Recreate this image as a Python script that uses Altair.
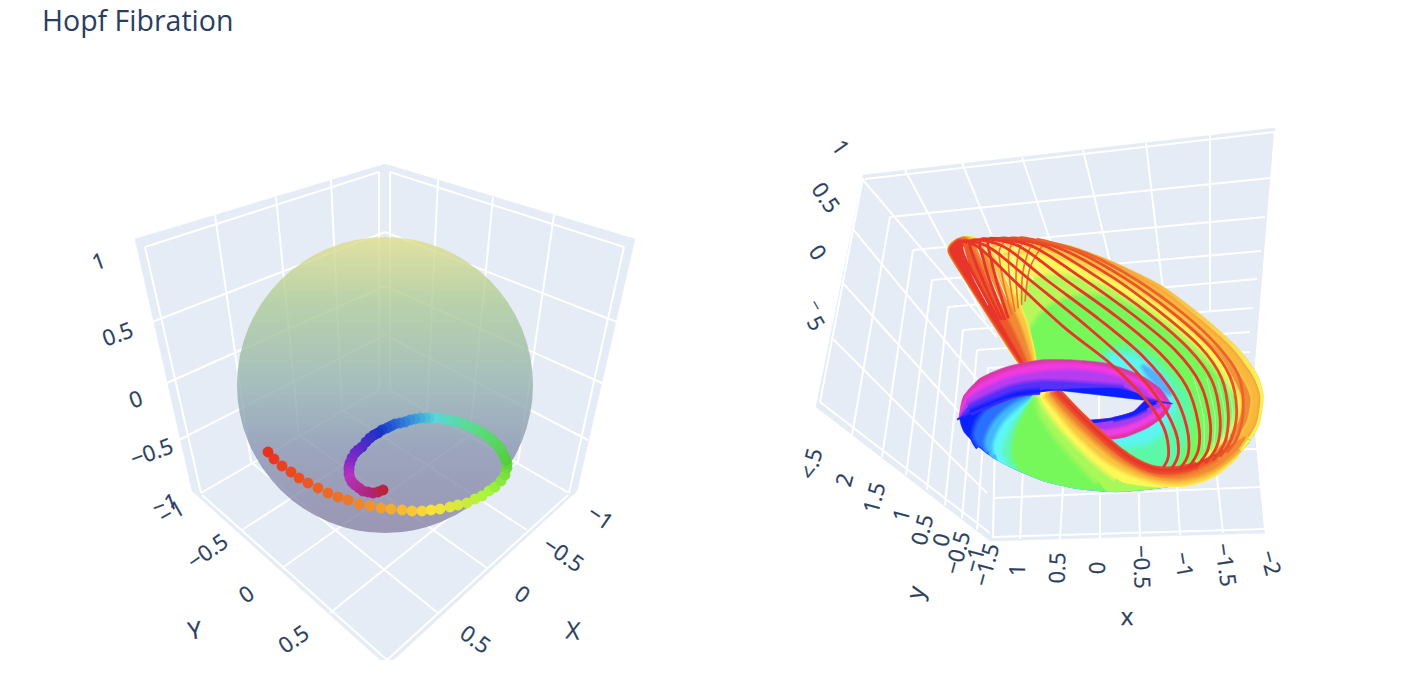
import altair as alt
import pandas as pd

BG = "#e5ecf6"
INK = "#2a3f5f"

left_panel = [(385,164),(635,239),(577,491),(387,666),(192,491),(135,239)]
right_panel = [(863,175),(1275,128),(1252,405),(1265,533),(990,541),(816,407)]

left_grid = [
 (145,247,379,172),(390,172,624,247),(145,247,201,493),(624,247,569,493),(379,172,379,388),(390,172,390,388),
 (201,493,379,390),(569,493,390,390),(202,495,387,660),(568,495,387,660),
 (215,215,251,462),(276,197,299,435),(331,180,342,410),(554,215,518,462),(493,197,470,435),(438,180,427,410),
 (152,322,385,232),(167,383,385,286),(179,440,385,335),(617,322,385,232),(602,383,385,286),(588,440,385,335),
 (330,613,518,462),(282,568,470,435),(242,530,427,410),(438,613,251,462),(487,568,299,435),(527,530,342,410),
]
right_grid = [
 (865,179,1275,132),(890,217,1270,178),(913,250,1265,217),(932,280,1261,251),(948,307,1257,279),(963,330,1253,308),(977,350,1250,332),(988,368,1250,352),
 (905,170,985,320),(962,163,1010,280),(1022,157,1060,270),(1083,150,1112,270),(1146,143,1163,290),(1210,135,1210,310),(1275,132,1253,400),
 (992,537,1265,529),(993,498,1260,487),(992,455,1257,449),(993,537,995,440),(1253,400,1265,529),
 (1020,539,1023,470),(1060,539,1064,470),(1100,539,1100,470),(1140,538,1138,470),(1180,535,1176,470),(1223,533,1213,440),
 (863,180,997,337),(852,228,990,395),(842,282,987,443),(832,338,987,493),(820,402,990,533),
 (863,178,820,402),(890,217,852,435),(913,250,882,457),(932,280,906,475),(948,307,927,490),(963,330,945,505),(977,350,962,518),(988,368,977,530),
]
hole_grid = [(1099,385,1099,422),(1063,390,1064,403)]

sphere_x, sphere_y = [385], [385]

spiral_x = [268,274,282,291,299,308,318,328,338,348,359,370,381,391,402,412,422,431,440,450,458,467,475,482,489,495,501,505,507,
            507,506,504,502,500,497,494,491,487,483,479,475,470,466,462,457,453,448,443,438,433,429,425,420,415,410,405,400,395,391,387,382,378,374,370,366,362,358,355,352,350,349,349,349,350,352,355,359,363,368,373,378,383]
spiral_y = [452,459,466,472,478,483,488,493,497,500,504,506,508,509,510,511,511,510,509,507,505,503,499,496,491,487,481,475,468,
            464,460,456,452,448,445,442,439,436,433,431,429,427,425,423,422,421,420,419,418,418,418,418,418,419,420,422,423,424,426,428,430,433,435,438,442,447,450,453,458,463,467,470,474,478,482,485,488,491,492,493,492,490]
hue_at = [0,9,17,24,30,40,49,55,61,67,73,79,81]
hue_col = ["#e8301e","#ee7828","#fae13c","#a5f53c","#55cd3c","#5adc82","#5ad7d7","#3282dc","#1932c8","#6928c8","#b432be","#af2378","#b9233c"]

body = [
 ("c1", 0, [(62,95),(75,68),(110,58),(200,52),(300,55),(430,80),(560,130),(700,200),(820,290),(920,380),(980,460),(1000,530),(985,620),(930,700),(840,770),(720,795),(500,640),(350,560),(270,420),(190,300),(120,190),(80,130)]),
 ("#f8b83c", 3, [(90,95),(120,70),(200,65),(300,68),(420,95),(550,145),(690,215),(805,305),(900,390),(960,470),(982,530),(970,610),(920,685),(830,755),(720,770),(500,640),(350,560),(280,420),(200,300),(130,190)]),
 ("c3", 3, [(130,95),(210,80),(300,82),(410,110),(540,160),(675,232),(790,320),(885,405),(940,480),(962,535),(950,605),(905,670),(820,740),(720,755),(500,640),(350,560),(290,420),(215,290),(160,190)]),
 ("#fdf75a", 4, [(190,130),(300,105),(400,125),(530,175),(660,245),(770,330),(860,415),(905,490),(925,540),(915,600),(880,650),(810,722),(720,750),(500,640),(350,560),(280,420),(250,300)]),
 ("#b8f75a", 5, [(270,240),(320,175),(410,170),(530,205),(650,270),(760,350),(850,435),(895,505),(912,545),(902,600),(870,650),(805,715),(720,745),(500,640),(350,560),(280,420),(262,330)]),
 ("#76f85a", 5, [(285,415),(300,340),(350,270),(430,235),(530,235),(640,285),(745,365),(835,445),(885,510),(905,550),(895,600),(860,650),(800,710),(720,740),(500,640),(350,560)]),
 ("#5cf8a8", 9, [(520,420),(580,390),(650,410),(720,470),(770,540),(770,620),(745,700),(700,740),(640,720),(540,650)]),
 ("#5cf5f0", 8, [(540,425),(600,415),(650,435),(700,490),(725,550),(705,620),(650,660),(590,670),(540,650)]),
 ("#55b0ff", 4, [(640,440),(690,470),(720,520),(700,510),(660,470)]),
]
wedge = [
 ("#f9c53f", 3, [(62,95),(78,68),(130,58),(190,110),(240,205),(285,310),(310,420),(270,422),(190,300),(120,190)]),
 ("#f08a35", 3, [(62,95),(78,68),(115,58),(165,110),(215,205),(265,310),(300,420),(270,422),(190,300),(120,190)]),
 ("#ec5a2c", 3, [(62,95),(78,68),(105,60),(135,110),(185,215),(240,320),(285,420),(270,422),(190,300),(120,190)]),
 ("#e8352a", 2, [(62,95),(78,68),(92,64),(110,120),(155,210),(215,320),(272,420),(270,422),(190,300),(120,190)]),
]
fan_gaps = [
 [(100,80),(125,160),(175,255)],[(118,75),(150,160),(195,255)],[(137,72),(170,150),(213,250)],[(158,70),(192,145),(232,240)],
 [(178,68),(212,140),(250,225)],[(200,66),(232,130),(268,210)],[(222,66),(254,125),(288,195)],[(245,66),(276,115),(310,180)],[(268,66),(298,105),(332,160)],
]
fan_orange = [
 [(245,285),(218,175),(208,92),(235,55)],[(255,275),(238,170),(238,90),(265,55)],[(265,265),(258,165),(268,90),(290,55)],
 [(275,255),(278,160),(298,88),(320,57)],[(285,245),(298,150),(328,90),(350,62)],
]
hole = [(375,510),(470,505),(560,505),(620,520),(650,540),(610,575),(540,595),(470,603),(420,560)]
arc_inner = [(470,603),(540,595),(610,575),(650,540)]
lower_arc = [
 ("#e0359f", 0, [(722,550),(700,590),(650,625),(590,650),(540,657),(480,640)]),
 ("#ee3fe0", 3, [(710,555),(685,585),(640,612),(585,635),(530,645),(480,630)]),
 ("#a53cf0", 3, [(695,555),(665,575),(625,598),(575,615),(520,625),(475,620)]),
 ("#1020ff", 3, [(680,550),(650,565),(610,585),(550,600),(480,610)]),
]
sil = [(105,640),(170,700),(250,745),(340,782),(440,805),(560,815),(700,802),(820,775),(900,725),(960,660)]
red_edge = [(870,695),(780,738),(700,748),(600,710),(480,610),(380,510)]
front = [
 ("#0a22ff", 0, [(380,510),(230,515),(130,550),(90,590)], 0),
 ("#2a70ff", 5, [(370,512),(250,530),(165,580),(135,640),(150,678),(165,694)], 1),
 ("#40b8ff", 4, [(360,515),(270,545),(200,600),(170,660),(176,692),(185,712)], 2),
 ("#5ef5f5", 4, [(350,518),(285,555),(225,610),(195,670),(198,702),(205,722)], 2),
 ("#5ff8b8", 4, [(340,520),(300,555),(250,620),(225,680),(228,716),(235,737)], 3),
 ("#76f85a", 4, [(330,522),(305,550),(265,620),(250,690),(257,730),(270,752)], 3),
 ("#a8f85a", 6, [(325,525),(335,580),(380,650),(450,730),(505,785),(530,812)], 5),
 ("#fdf75a", 5, [(330,522),(355,570),(410,640),(490,720),(560,775),(590,790)], 6),
 ("#f9c53f", 4, [(345,525),(385,575),(440,640),(530,720),(630,770),(740,790),(840,765),(920,700),(955,650)], 99),
 ("#f08a35", 4, [(360,520),(410,580),(470,640),(560,715),(650,760),(750,775),(850,745),(925,685),(945,650)], 99),
 ("#ec5a2c", 4, [(370,515),(440,590),(520,665),(610,730),(690,760),(770,755),(860,715),(920,665)], 99),
 ("#e8352a", 4, [(380,512),(465,600),(570,695),(660,745),(740,750),(800,735),(875,695)], 99),
]
top_arc_inner = [(722,550),(650,540),(620,520),(560,505),(470,505),(375,510),(300,520),(200,540),(87,595)]
top_arc = [
 ("#d93aa8", 0, [(87,590),(100,530),(150,475),(230,440),(330,420),(430,420),(530,430),(630,465),(690,505),(722,550)]),
 ("#f03ae0", 3, [(88,590),(105,535),(160,490),(240,455),(335,435),(430,433),(525,445),(620,480),(675,515),(710,550)]),
 ("#b53cf0", 4, [(88,592),(110,545),(165,510),(245,477),(340,460),(430,455),(520,465),(600,490),(650,520),(690,548)]),
 ("#5530f8", 4, [(88,594),(115,560),(175,530),(250,500),(340,487),(420,490),(500,495),(580,502),(640,530)]),
 ("#0a20ff", 4, [(88,598),(120,575),(180,550),(260,520),(330,512),(375,510)]),
]
loops = [
 ("#e8352a", [(65,92),(90,64),(150,85),(250,180),(400,320),(540,430),(640,530),(700,620),(716,700),(700,742)]),
 ("#e8352a", [(205,300),(150,200),(105,115),(92,68),(130,65),(190,90),(300,180),(460,310),(590,425),(680,530),(735,630),(745,700),(725,745)]),
 ("#e8352a", [(215,300),(165,195),(128,105),(120,66),(150,60),(230,85),(350,180),(510,300),(640,410),(730,520),(770,620),(775,700),(750,745)]),
 ("#e8352a", [(225,300),(182,190),(155,100),(150,62),(180,58),(270,80),(400,175),(560,290),(690,400),(770,500),(805,610),(805,690),(775,742)]),
 ("#e8352a", [(235,295),(200,185),(178,95),(175,60),(205,56),(310,80),(450,170),(610,285),(735,390),(810,490),(840,600),(835,685),(800,738)]),
 ("#e8402a", [(205,58),(235,55),(350,80),(500,170),(655,280),(775,385),(845,480),(870,590),(862,675),(825,730)]),
 ("#e8482a", [(235,58),(265,55),(390,85),(545,170),(695,280),(810,380),(875,475),(895,580),(885,665),(848,722)]),
 ("#ea522a", [(265,57),(290,55),(430,90),(585,175),(730,280),(840,380),(900,470),(920,570),(905,655),(870,710)]),
 ("#ec642c", [(320,57),(470,100),(620,180),(765,285),(865,380),(925,465),(940,560),(925,645),(890,698)]),
]
green_gaps = [[(790,470),(820,590),(822,690)],[(830,475),(855,590),(850,680)],[(862,478),(885,585),(875,670)],[(888,475),(908,575),(895,660)]]

labels = [
 ("1",99,262,340),("0.5",118,335,340),("0",136,400,340),("−0.5",152,453,340),("−1",165,505,340),("−1",172,513,330),
 ("−0.5",208,552,325),("0",247,595,325),("0.5",294,640,325),
 ("−1",600,518,35),("−0.5",563,555,35),("0",522,595,35),("0.5",475,640,35),
 ("1",840,148,55),("0.5",825,198,55),("0",817,253,55),("‾  5",812,318,60),
 ("<.5",812,464,285),("2",845,480,285),("1.5",875,498,285),("1",902,515,285),("0.5",923,530,285),("0",942,540,285),
 ("−0.5",958,553,285),("−1",975,560,285),("−1.5",987,565,285),
 ("1",1018,570,272),("0.5",1058,568,272),("0",1098,568,272),("−0.5",1141,567,88),("−1",1183,565,80),("−1.5",1225,565,82),("−2",1270,563,75),
]
axis_titles = [("Y",195,632,352),("X",573,632,6),("y",917,593,285),("x",1127,618,0)]

X = alt.X("x:Q", scale=alt.Scale(domain=[8,1398], nice=False, zero=False), axis=None)
Y = alt.Y("y:Q", scale=alt.Scale(domain=[660,48], nice=False, zero=False), axis=None)

def frame(pts):
    return pd.DataFrame({"x":[p[0] for p in pts],"y":[p[1] for p in pts],"i":range(len(pts))})

def crop(pts):
    return [(930+u/3, 220+v/3) for u,v in pts]

def mix(a, b, t):
    pa=[int(a[i:i+2],16) for i in (1,3,5)]; pb=[int(b[i:i+2],16) for i in (1,3,5)]
    return "#%02x%02x%02x" % tuple(round(x+(y-x)*t) for x,y in zip(pa,pb))

def poly(pts, fill, smooth=False):
    kw = dict(interpolate="cardinal-closed", tension=0.35) if smooth else dict(interpolate="linear-closed")
    stroke = fill if isinstance(fill,str) else "#f8c040"
    return alt.Chart(frame(pts)).mark_line(fill=fill, stroke=stroke, strokeWidth=0.5, clip=True, **kw).encode(x=X,y=Y,order="i:Q")

def curve(pts, color, w, closed=False, opacity=1):
    return alt.Chart(frame(pts)).mark_line(stroke=color, strokeWidth=w, clip=True, opacity=opacity,
        interpolate="cardinal-closed" if closed else "cardinal", tension=0.35 if closed else 0, strokeCap="butt").encode(x=X,y=Y,order="i:Q")

def halo(pts, prev, cur, a, closed=False):
    if not a or len(pts)<2: return []
    return [curve(pts, mix(prev,cur,0.2), 2*a, closed), curve(pts, mix(prev,cur,0.4), 1.5*a, closed),
            curve(pts, mix(prev,cur,0.6), a, closed), curve(pts, mix(prev,cur,0.8), 0.5*a, closed)]

def rules(segs):
    d = pd.DataFrame(segs, columns=["x","y","x2","y2"])
    return alt.Chart(d).mark_rule(color="white", strokeWidth=2, clip=True).encode(x=X,y=Y,x2="x2:Q",y2="y2:Q")

def texts(rows, size):
    d = pd.DataFrame(rows, columns=["t","x","y","a"])
    return alt.Chart(d).mark_text(font="Open Sans", fontSize=size, color=INK, stroke=INK, strokeWidth=0.25, align="center", baseline="middle").encode(
        x=X,y=Y,text="t:N",angle=alt.Angle("a:Q",scale=None))

grad = lambda a,b: alt.Gradient(gradient="linear", x1=0.15,y1=0,x2=0.85,y2=0.75, stops=[alt.GradientStop(offset=0,color=a),alt.GradientStop(offset=1,color=b)])
named = {"c1":grad("#ef7e2f","#fdf75a"),"c3":grad("#fdf05a","#f08a35")}
flat = {"c1":"#f5a040","c3":"#fbc84a"}

layers = [poly(left_panel,BG), poly(right_panel,BG), rules(left_grid), rules(right_grid)]

sphere_fill = alt.Gradient(gradient="linear", x1=0,y1=0,x2=0,y2=1, stops=[
    alt.GradientStop(offset=0,color="#e0de8b"),alt.GradientStop(offset=0.22,color="#aecb97"),
    alt.GradientStop(offset=0.5,color="#95b2b0"),alt.GradientStop(offset=0.72,color="#8893b0"),
    alt.GradientStop(offset=1,color="#8881a3")])
layers.append(alt.Chart(pd.DataFrame({"x":sphere_x,"y":sphere_y})).mark_point(
    shape="circle", filled=True, fill=sphere_fill, size=296**2, opacity=0.8).encode(x=X,y=Y))

spiral = pd.DataFrame({"x":spiral_x,"y":spiral_y,"i":range(len(spiral_x))})
layers.append(alt.Chart(spiral).mark_circle(opacity=1,size=118).encode(
    x=X,y=Y,order="i:Q",color=alt.Color("i:Q",scale=alt.Scale(domain=hue_at,range=hue_col,interpolate="rgb"),legend=None)))

def stack(bands, first_prev=None):
    out=[]; prev=first_prev
    for c,a,p in bands:
        col=flat.get(c,c)
        if prev and a:
            out+=halo(crop(p), prev, col, a, True)
        out.append(poly(crop(p), named.get(c,c), smooth=True))
        prev=col
    return out

layers += stack(body)
layers += stack(wedge, first_prev="#fdf75a")
for g in fan_gaps:
    layers.append(curve(crop(g),"#f8eeda",1.2,opacity=0.85))
for g in fan_orange:
    layers.append(curve(crop(g),"#f0702e",1.6))
layers.append(poly(crop(hole),BG,smooth=True))
layers.append(rules(hole_grid))

prev=None
for c,a,p in lower_arc:
    if prev and a: layers+=halo(crop(p[1:-1]),prev,c,a)
    layers.append(poly(crop(arc_inner+p),c,smooth=True))
    prev=c

prev=None
for c,a,p,j in front:
    if prev and a: layers+=halo(crop(p[:-1]),prev,c,a)
    tail = sil[j:] if j<len(sil) else []
    layers.append(poly(crop(p+tail+red_edge),c,smooth=True))
    prev=c

prev=None
for c,a,p in top_arc:
    if prev and a: layers+=halo(crop(p[1:-1]),prev,c,a)
    layers.append(poly(crop(p+top_arc_inner),c,smooth=True))
    prev=c

for g in green_gaps:
    layers.append(curve(crop(g),"#a8fcb0",1.2))
for c,p in loops:
    layers.append(curve(crop(p),c,2.8))
layers.append(texts(labels,22))
layers.append(texts(axis_titles,24))

chart = alt.layer(*layers).properties(
    width=1390, height=612,
    autosize=alt.AutoSizeParams(type="none"),
    padding={"left":0,"top":40,"right":0,"bottom":0},
    title=alt.TitleParams("Hopf Fibration", anchor="start", font="Open Sans", fontSize=28.5, fontWeight="normal", color=INK, dx=34, offset=12, frame="group"),
).configure_view(stroke=None)
chart.save("out.html", embed_options={"renderer":"svg","actions":False})
